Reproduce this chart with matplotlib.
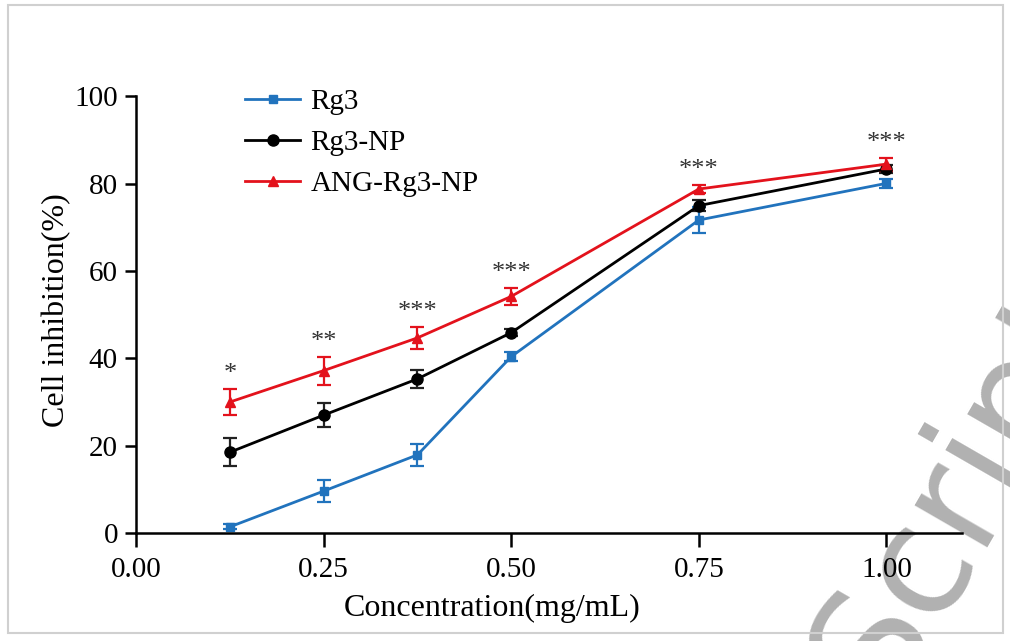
import matplotlib.pyplot as plt
from matplotlib.patches import Rectangle

# ----------------------
# DATA
# ----------------------
conc = [0.125, 0.25, 0.375, 0.50, 0.75, 1.00]

rg3 = [1.4, 9.6, 17.9, 40.4, 71.7, 80.1]
rg3_err = [0.6, 2.5, 2.5, 1.0, 3.0, 1.0]

rg3_np = [18.5, 27.0, 35.3, 45.9, 75.0, 83.4]
rg3_np_err = [3.2, 2.7, 2.0, 0.8, 1.2, 1.0]

ang_np = [30.0, 37.2, 44.7, 54.2, 78.8, 84.5]
ang_np_err = [3.0, 3.2, 2.6, 2.0, 1.0, 1.5]

stars = ["*", "**", "***", "***", "***", "***"]

x_ticks = [0.00, 0.25, 0.50, 0.75, 1.00]
y_ticks = [0, 20, 40, 60, 80, 100]

plt.rcParams["font.family"] = ["Liberation Serif", "DejaVu Serif"]

fig = plt.figure(figsize=(10.1, 6.41), dpi=100)
ax = fig.add_axes([0.1347, 0.1685, 0.8173, 0.681])

series = [
    (rg3, rg3_err, "Rg3", "#2173bd", "s", 6),
    (rg3_np, rg3_np_err, "Rg3-NP", "black", "o", 8),
    (ang_np, ang_np_err, "ANG-Rg3-NP", "#e3121c", "^", 7),
]
handles = []
for vals, err, name, col, mk, ms in series:
    c = ax.errorbar(conc, vals, yerr=err, color=col, marker=mk, markersize=ms,
                    linewidth=2, elinewidth=1.6, capsize=5, capthick=1.6,
                    ecolor="#222222" if col == "black" else col, label=name)
    handles.append(c[0])

for x, y, e, s in zip(conc, ang_np, ang_np_err, stars):
    ax.text(x, y + e + 0.8, s, ha="center", va="bottom", fontsize=19,
            color="#333333")

ax.set_xlim(0, 1.1)
ax.set_ylim(0, 100)
ax.set_xticks(x_ticks)
ax.set_xticklabels([f"{t:.2f}" for t in x_ticks])
ax.set_yticks(y_ticks)
ax.tick_params(axis="x", labelsize=21, width=1.8, length=10, direction="out", pad=7)
ax.tick_params(axis="y", labelsize=21, width=1.8, length=8, direction="out", pad=5)
for side in ["top", "right"]:
    ax.spines[side].set_visible(False)
for side in ["left", "bottom"]:
    ax.spines[side].set_linewidth(1.8)

ax.set_xlabel("Concentration(mg/mL)", fontsize=23)
ax.xaxis.set_label_coords(0.431, -0.14)
ax.set_ylabel("Cell inhibition(%)", fontsize=23)
ax.yaxis.set_label_coords(-0.078, 0.51)

leg = ax.legend(handles, [s[2] for s in series], loc="upper left",
                bbox_to_anchor=(0.10, 1.078), frameon=False,
                fontsize=21, handlelength=1.9, handletextpad=0.35,
                labelspacing=0.5)

# light frame around the picture
fig.patches.append(Rectangle((0.008, 0.013), 0.985, 0.979, transform=fig.transFigure,
                             fill=False, edgecolor="#d0d0d0", linewidth=1.5))

# watermark (behind the axis and tick labels)
ax.text(0.905, -0.127, "Script", fontsize=110, color="#a8a8a8", rotation=60,
        ha="left", va="bottom", fontfamily="DejaVu Sans", alpha=0.9,
        rotation_mode="anchor", transform=fig.transFigure, zorder=0,
        clip_on=False)

fig.savefig("out.png", dpi=100)
